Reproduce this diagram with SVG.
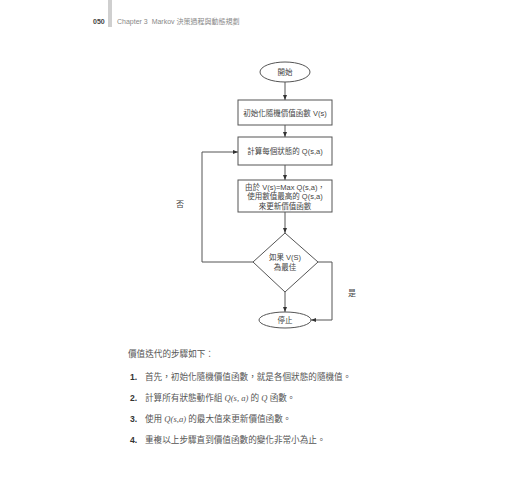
<svg xmlns="http://www.w3.org/2000/svg" width="520" height="500" viewBox="0 0 520 500">
<style>
.node{fill:#fff;stroke:#555;stroke-width:1}
.t{font-family:"Liberation Sans","Noto Sans CJK TC",sans-serif;font-size:7.5px;fill:#444;text-anchor:middle}
.c{fill:none;stroke:#555;stroke-width:1}
.b{font-family:"Liberation Serif","Noto Sans CJK TC",serif;font-size:8.6px;fill:#555}
.n{font-family:"Liberation Sans",sans-serif;font-size:8.6px;font-weight:bold;fill:#333}
.i{font-family:"Liberation Serif",serif;font-style:italic}
</style>
<defs>
<marker id="ah" viewBox="0 0 10 10" refX="10" refY="5" markerWidth="5" markerHeight="5" orient="auto">
<path d="M0,1 L10,5 L0,9 z" fill="#333"/>
</marker>
</defs>
<rect width="520" height="500" fill="#fff"/>
<g id="header">
<rect x="108" y="0" width="4" height="27" fill="#cfcfcf"/>
<text x="93" y="24" font-family="Liberation Sans,sans-serif" font-size="7px" font-weight="bold" fill="#444">050</text>
<text x="117" y="24" font-family="Liberation Sans,'Noto Sans CJK TC',sans-serif" font-size="7px" fill="#888" xml:space="preserve">Chapter 3  Markov 決策過程與動態規劃</text>
</g>
<g id="connectors">
<line class="c" x1="285" y1="82" x2="285" y2="100" marker-end="url(#ah)"/>
<line class="c" x1="285" y1="125" x2="285" y2="137" marker-end="url(#ah)"/>
<line class="c" x1="285" y1="165" x2="285" y2="180" marker-end="url(#ah)"/>
<line class="c" x1="285" y1="212" x2="285" y2="233" marker-end="url(#ah)"/>
<line class="c" x1="285" y1="292" x2="285" y2="312" marker-end="url(#ah)"/>
<polyline class="c" points="253,262 202,262 202,152 238,152" marker-end="url(#ah)"/>
<polyline class="c" points="318,262 332,262 332,320 311,320" marker-end="url(#ah)"/>
<text x="176" y="207" font-family="Noto Sans CJK TC, sans-serif" font-size="8px" fill="#444">否</text>
<text x="348" y="296" font-family="Noto Sans CJK TC, sans-serif" font-size="8px" fill="#444">是</text>
</g>
<g id="start">
<ellipse class="node" cx="285" cy="72" rx="25" ry="10"/>
<text x="285" y="75" class="t">開始</text>
</g>
<g id="init">
<rect class="node" x="238" y="100" width="94" height="25"/>
<text x="285" y="115.5" class="t">初始化隨機價值函數 V(s)</text>
</g>
<g id="compute">
<rect class="node" x="238" y="137" width="94" height="28"/>
<text x="285" y="154" class="t">計算每個狀態的 Q(s,a)</text>
</g>
<g id="update">
<rect class="node" x="238" y="180" width="94" height="32"/>
<text x="285" y="189.5" class="t">由於 V(s)=Max Q(s,a)，</text>
<text x="285" y="199" class="t">使用數值最高的 Q(s,a)</text>
<text x="285" y="208.5" class="t">來更新價值函數</text>
</g>
<g id="decision">
<polygon class="node" points="285,233 318,262 285,292 253,262"/>
<text x="285" y="260" class="t">如果 V(S)</text>
<text x="285" y="269.5" class="t">為最佳</text>
</g>
<g id="stop">
<ellipse class="node" cx="285" cy="320" rx="26" ry="8"/>
<text x="285" y="323" class="t">停止</text>
</g>
<g id="body">
<text x="128" y="357" class="b">價值迭代的步驟如下：</text>
<text x="130" y="380" class="n">1.</text>
<text x="145" y="380" class="b">首先，初始化隨機價值函數，就是各個狀態的隨機值。</text>
<text x="130" y="401" class="n">2.</text>
<text x="145" y="401" class="b">計算所有狀態動作組 <tspan class="i">Q(s, a)</tspan> 的 <tspan class="i">Q</tspan> 函數。</text>
<text x="130" y="422" class="n">3.</text>
<text x="145" y="422" class="b">使用 <tspan class="i">Q(s,a)</tspan> 的最大值來更新價值函數。</text>
<text x="130" y="443" class="n">4.</text>
<text x="145" y="443" class="b">重複以上步驟直到價值函數的變化非常小為止。</text>
</g>
</svg>
